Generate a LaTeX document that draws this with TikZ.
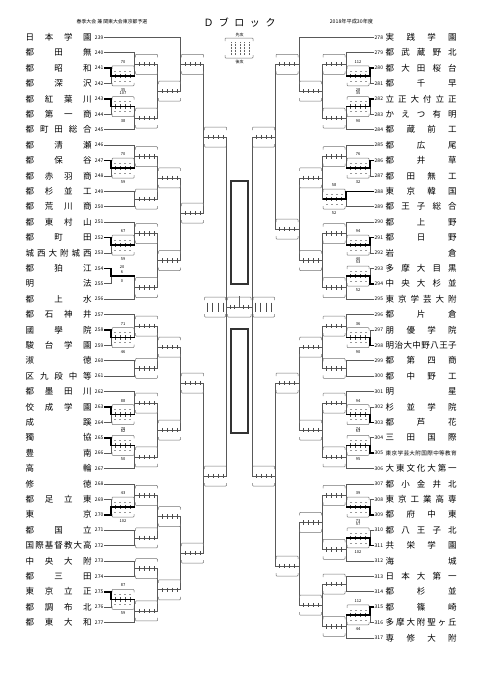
\documentclass[tikz,border=0pt]{standalone}
\usepackage{fontspec}
\setmainfont{Noto Sans CJK JP}
\usetikzlibrary{calc}

% 均等割り付け
\newcommand{\spread}[2]{\makebox[#1][s]{\spaceskip=0pt plus 1fil\relax #2}}
% 試合: 名前, 列, 上, 下
\newcommand{\bout}[4]{%
  \draw[bline] (#3) -- (#3 -| #2) -- (#4 -| #2) -- (#4);
  \coordinate (#1) at ($(#3 -| #2)!.5!(#4 -| #2)$);}
\newcommand{\boutat}[5]{%
  \draw[bline] (#3) -- (#3 -| #2) -- (#4 -| #2) -- (#4);
  \coordinate (#1) at ($(#2)+(0,#5)$);}
% スコア枠 (向き 1 / -1)
\newcommand{\scorebox}[2]{%
  \draw[scframe] ($(#1)+(#2*1,-7)$) |- ($(#1)+(#2*23,-10)$) -- ++(0,3);
  \draw[scframe] ($(#1)+(#2*1,7)$) |- ($(#1)+(#2*23,10)$) -- ++(0,-3);
  \foreach \t in {4.5,9.5,14.5,19.5}
    \draw[tickline] ($(#1)+(#2*\t,-2.2)$) -- ++(0,4.4);}
\newcommand{\played}[4]{%
  \foreach \t in {3,8,13,18}{
    \draw[digit] ($(#1)+(#2*\t,-5)$) -- ++(#2*1.6,0);
    \draw[digit] ($(#1)+(#2*\t,5)$) -- ++(#2*1.6,0);}
  \node[lbl] (#1u) at ($(#1)+(#2*12,-14)$) {#3};
  \node[lbl] (#1d) at ($(#1)+(#2*12,14)$) {#4};}
\newcommand{\win}[4]{%
  \draw[winline] (#1) -- (#1 -| #3) -- (#2) -- (#2 -| #4);}

\begin{document}
\begin{tikzpicture}[x=1pt, y=-1pt,
    bline/.style={draw=black!65, line width=0.6pt},
    winline/.style={line width=1.6pt},
    scframe/.style={draw=black!55, line width=0.5pt, rounded corners=0.8pt},
    tickline/.style={draw=black!70, line width=0.45pt},
    digit/.style={draw=black!40, line width=0.5pt},
    lbl/.style={font=\fontsize{4}{4}\selectfont, inner sep=0pt},
    nameL/.style={anchor=west, inner sep=0pt, font=\fontsize{8.5}{9}\selectfont},
    noL/.style={anchor=east, inner sep=0.5pt, font=\fontsize{5}{5}\selectfont},
    noR/.style={anchor=west, inner sep=0.5pt, font=\fontsize{5}{5}\selectfont}]
\useasboundingbox (0,0) rectangle (481,680);

% 見出し
\node[font=\fontsize{4.9}{5}\selectfont] (sub) at (112,22) {春季大会 兼 関東大会東京都予選};
\node[font=\fontsize{10}{10}\selectfont] (title) at (239.5,23) {\spread{72pt}{Ｄ ブ ロ ッ ク}};
\node[font=\fontsize{5.2}{5}\selectfont] (year) at (351.5,22) {2018年平成30年度};

% 列の位置
\coordinate (L1) at (111,0);   \coordinate (L2) at (134.5,0);
\coordinate (L3) at (157.5,0); \coordinate (L4) at (180.5,0);
\coordinate (L5) at (203.5,0); \coordinate (L6) at (226.5,0);
\coordinate (R1) at (370,0);   \coordinate (R2) at (346,0);
\coordinate (R3) at (322.5,0); \coordinate (R4) at (299,0);
\coordinate (R5) at (275.5,0); \coordinate (R6) at (252,0);

% 左側のチーム
\foreach \s [count=\i from 0] in {日 本 学 園, 都 田 無, 都 昭 和, 都 深 沢, 都 紅 葉 川,
    都 第 一 商, 都 町 田 総 合, 都 清 瀬, 都 保 谷, 都 赤 羽 商, 都 杉 並 工, 都 荒 川 商,
    都 東 村 山, 都 町 田, 城 西 大 附 城 西, 都 狛 江, 明 法, 都 上 水, 都 石 神 井,
    國 學 院, 駿 台 学 園, 淑 徳, 区 九 段 中 等, 都 墨 田 川, 佼 成 学 園, 成 蹊, 獨 協,
    豊 南, 高 輪, 修 徳, 都 足 立 東, 東 京, 都 国 立, 国 際 基 督 教 大 高, 中 央 大 附,
    都 三 田, 東 京 立 正, 都 調 布 北, 都 東 大 和}{
  \pgfmathtruncatemacro\num{239+\i}
  \node[nameL] (m\num) at (25.5,{37.3+15.4*\i}) {\spread{66pt}{\s}};
  \node[noL] (n\num) at (104,{37.3+15.4*\i}) {\num};
}

% 右側のチーム
\foreach \s [count=\i from 0] in {実 践 学 園, 都 武 蔵 野 北, 都 大 田 桜 台, 都 千 早,
    立 正 大 付 立 正, か え つ 有 明, 都 蔵 前 工, 都 広 尾, 都 井 草, 都 田 無 工,
    東 京 韓 国, 都 王 子 総 合, 都 上 野, 都 日 野, 岩 倉, 多 摩 大 目 黒, 中 央 大 杉 並,
    東 京 学 芸 大 附, 都 片 倉, 朋 優 学 院, 明 治 大 中 野 八 王 子, 都 第 四 商,
    都 中 野 工, 明 星, 杉 並 学 院, 都 芦 花, 三 田 国 際,
    {\fontsize{5.6}{6}\selectfont 東 京 学 芸 大 附 国 際 中 等 教 育},
    大 東 文 化 大 第 一, 都 小 金 井 北, 東 京 工 業 高 専, 都 府 中 東, 都 八 王 子 北,
    共 栄 学 園, 海 城, 日 本 大 第 一, 都 杉 並, 都 篠 崎, 多 摩 大 附 聖 ヶ 丘, 専 修 大 附}{
  \pgfmathtruncatemacro\num{278+\i}
  \node[nameL] (m\num) at (385.5,{37.3+15.4*\i}) {\spread{71pt}{\s}};
  \node[noR] (n\num) at (374,{37.3+15.4*\i}) {\num};
}

% 左上
\bout{a1}{L1}{n241.east}{n242.east}
\bout{a2}{L2}{n240.east}{a1}
\bout{a3}{L1}{n243.east}{n244.east}
\bout{a4}{L2}{a3}{n245.east}
\bout{a5}{L3}{a2}{a4}
\bout{a6}{L4}{n239.east}{a5}
\bout{b1}{L1}{n247.east}{n248.east}
\bout{b2}{L2}{n246.east}{b1}
\bout{b3}{L2}{n249.east}{n250.east}
\bout{b4}{L3}{b2}{b3}
\bout{b5}{L1}{n252.east}{n253.east}
\bout{b6}{L2}{n251.east}{b5}
\bout{b7}{L1}{n254.east}{n255.east}
\bout{b8}{L2}{b7}{n256.east}
\bout{b9}{L3}{b6}{b8}
\boutat{b10}{L4}{b4}{b9}{213}
\boutat{lt}{L5}{a6}{b10}{137}
% 左下
\bout{c1}{L1}{n258.east}{n259.east}
\bout{c2}{L2}{n257.east}{c1}
\bout{c3}{L2}{n260.east}{n261.east}
\bout{c4}{L3}{c2}{c3}
\bout{c5}{L1}{n263.east}{n264.east}
\bout{c6}{L2}{n262.east}{c5}
\bout{c7}{L1}{n265.east}{n266.east}
\bout{c8}{L2}{c7}{n267.east}
\bout{c9}{L3}{c6}{c8}
\boutat{c10}{L4}{c4}{c9}{383}
\bout{d1}{L1}{n269.east}{n270.east}
\bout{d2}{L2}{n268.east}{d1}
\bout{d3}{L2}{n271.east}{n272.east}
\bout{d4}{L3}{d2}{d3}
\bout{d5}{L2}{n273.east}{n274.east}
\bout{d6}{L1}{n275.east}{n276.east}
\bout{d7}{L2}{d6}{n277.east}
\bout{d8}{L3}{d5}{d7}
\boutat{d9}{L4}{d4}{d8}{553}
\boutat{lb}{L5}{c10}{d9}{476}

% 右上
\bout{e1}{R1}{n280.west}{n281.west}
\bout{e2}{R2}{n279.west}{e1}
\bout{e3}{R1}{n282.west}{n283.west}
\bout{e4}{R2}{e3}{n284.west}
\bout{e5}{R3}{e2}{e4}
\bout{e6}{R4}{n278.west}{e5}
\bout{f1}{R1}{n286.west}{n287.west}
\bout{f2}{R2}{n285.west}{f1}
\bout{f3}{R2}{n288.west}{n289.west}
\bout{f4}{R3}{f2}{f3}
\bout{f5}{R1}{n291.west}{n292.west}
\bout{f6}{R2}{n290.west}{f5}
\bout{f7}{R1}{n293.west}{n294.west}
\bout{f8}{R2}{f7}{n295.west}
\bout{f9}{R3}{f6}{f8}
\boutat{f10}{R4}{f4}{f9}{229}
\boutat{rt}{R5}{e6}{f10}{137}
% 右下
\bout{g1}{R1}{n297.west}{n298.west}
\bout{g2}{R2}{n296.west}{g1}
\bout{g3}{R2}{n299.west}{n300.west}
\bout{g4}{R3}{g2}{g3}
\bout{g5}{R1}{n302.west}{n303.west}
\bout{g6}{R2}{n301.west}{g5}
\bout{g7}{R1}{n304.west}{n305.west}
\bout{g8}{R2}{g7}{n306.west}
\bout{g9}{R3}{g6}{g8}
\boutat{g10}{R4}{g4}{g9}{383}
\bout{h1}{R1}{n308.west}{n309.west}
\bout{h2}{R2}{n307.west}{h1}
\bout{h3}{R1}{n310.west}{n311.west}
\bout{h4}{R2}{h3}{n312.west}
\bout{h5}{R3}{h2}{h4}
\bout{h6}{R2}{n313.west}{n314.west}
\bout{h7}{R1}{n315.west}{n316.west}
\bout{h8}{R2}{h7}{n317.west}
\bout{h9}{R3}{h6}{h8}
\boutat{h10}{R4}{h5}{h9}{566}
\boutat{rb}{R5}{g10}{h10}{476}

% スコア枠
\foreach \m in {a1,a2,a3,a4,a5,a6,b1,b2,b3,b4,b5,b6,b8,b9,b10,lt,
    c1,c2,c3,c4,c5,c6,c7,c8,c9,c10,d1,d2,d3,d4,d5,d6,d7,d8,d9,lb}
  \scorebox{\m}{1};
\foreach \m in {e1,e2,e3,e4,e5,e6,f1,f2,f3,f4,f5,f6,f7,f8,f9,f10,rt,
    g1,g2,g3,g4,g5,g6,g7,g8,g9,g10,h1,h2,h3,h4,h5,h6,h7,h8,h9,h10,rb}
  \scorebox{\m}{-1};

% 結果
\played{a1}{1}{70}{35}   \win{n241.east}{a1}{L1}{L2}
\played{a3}{1}{107}{38}  \win{n243.east}{a3}{L1}{L2}
\played{b1}{1}{70}{59}   \win{n247.east}{b1}{L1}{L2}
\played{b5}{1}{67}{59}   \win{n252.east}{b5}{L1}{L2}
\win{n254.east}{b7}{L1}{L2}
\node[lbl] (b7u) at ($(b7)+(11,-8.5)$) {20};
\node[lbl] (b7s) at ($(b7)+(11,-3.6)$) {6};
\node[lbl] (b7d) at ($(b7)+(11,5.5)$) {0};
\played{c1}{1}{71}{46}   \win{n258.east}{c1}{L1}{L2}
\played{c5}{1}{88}{78}   \win{n263.east}{c5}{L1}{L2}
\played{c7}{1}{82}{50}   \win{n265.east}{c7}{L1}{L2}
\played{d1}{1}{43}{102}  \win{n270.east}{d1}{L1}{L2}
\played{d6}{1}{87}{59}   \win{n275.east}{d6}{L1}{L2}

\played{e1}{-1}{112}{28} \win{n280.west}{e1}{R1}{R2}
\played{e3}{-1}{35}{90}  \win{n282.west}{e3}{R1}{R2}
\played{f1}{-1}{76}{32}  \win{n286.west}{f1}{R1}{R2}
\played{f3}{-1}{58}{52}  \win{n288.west}{f3}{R2}{R3}
\played{f5}{-1}{94}{40}  \win{n291.west}{f5}{R1}{R2}
\played{f7}{-1}{53}{52}  \win{n294.west}{f7}{R1}{R2}
\played{g1}{-1}{36}{90}  \win{n298.west}{g1}{R1}{R2}
\played{g5}{-1}{94}{74}  \win{n303.west}{g5}{R1}{R2}
\played{g7}{-1}{63}{95}  \win{n305.west}{g7}{R1}{R2}
\played{h1}{-1}{39}{73}  \win{n309.west}{h1}{R1}{R2}
\played{h3}{-1}{57}{102} \win{n311.west}{h3}{R1}{R2}
\played{h7}{-1}{112}{44} \win{n315.west}{h7}{R1}{R2}

% 決勝
\draw[bline] (lt) -- (lt -| L6) -- (lb -| L6) -- (lb);
\draw[bline] (rt) -- (rt -| R6) -- (rb -| R6) -- (rb);
\coordinate (fl) at ($(L6)+(0,307)$);
\coordinate (fr) at ($(R6)+(0,307)$);
\coordinate (fc) at ($(fl)!.5!(fr)$);
\draw[bline] (fl) -- (fr);
\draw[bline] (fc) -- ++(0,-11);
\foreach \a/\b in {-22/-1, 1/24.5, 26.5/48}{
  \draw[scframe] ($(fl)+(\a,-7)$) |- ($(fl)+(\b,-10)$) -- ++(0,3);
  \draw[scframe] ($(fl)+(\a,7)$) |- ($(fl)+(\b,10)$) -- ++(0,-3);
}
\foreach \t in {-19,-14,-8.5,-3.5}
  \draw[tickline] ($(fl)+(\t,-4.5)$) -- ++(0,9);
\foreach \t in {3.5,8.5,14,19}
  \draw[tickline] ($(fr)+(\t,-4.5)$) -- ++(0,9);
\foreach \t in {4,8,17,21.5}
  \draw[tickline] ($(fl)+(\t,-2.2)$) -- ++(0,4.4);

% 中央の枠
\draw[line width=1.4pt, black!80] (231,181) rectangle (248,284);
\draw[line width=1.4pt, black!80] (231,329) rectangle (248,433);

% 凡例
\draw[scframe] (225,41) |- (253,38) -- ++(0,3);
\draw[scframe] (225,55) |- (253,58) -- ++(0,-3);
\foreach \x in {231,235.5,240,244.5,249}
  \draw[black!60, densely dotted, line width=0.5pt] (\x,42) -- (\x,55);
\node[lbl] (lgu) at (239.5,35) {先攻};
\node[lbl] (lgd) at (239.5,61.5) {後攻};
\end{tikzpicture}
\end{document}
